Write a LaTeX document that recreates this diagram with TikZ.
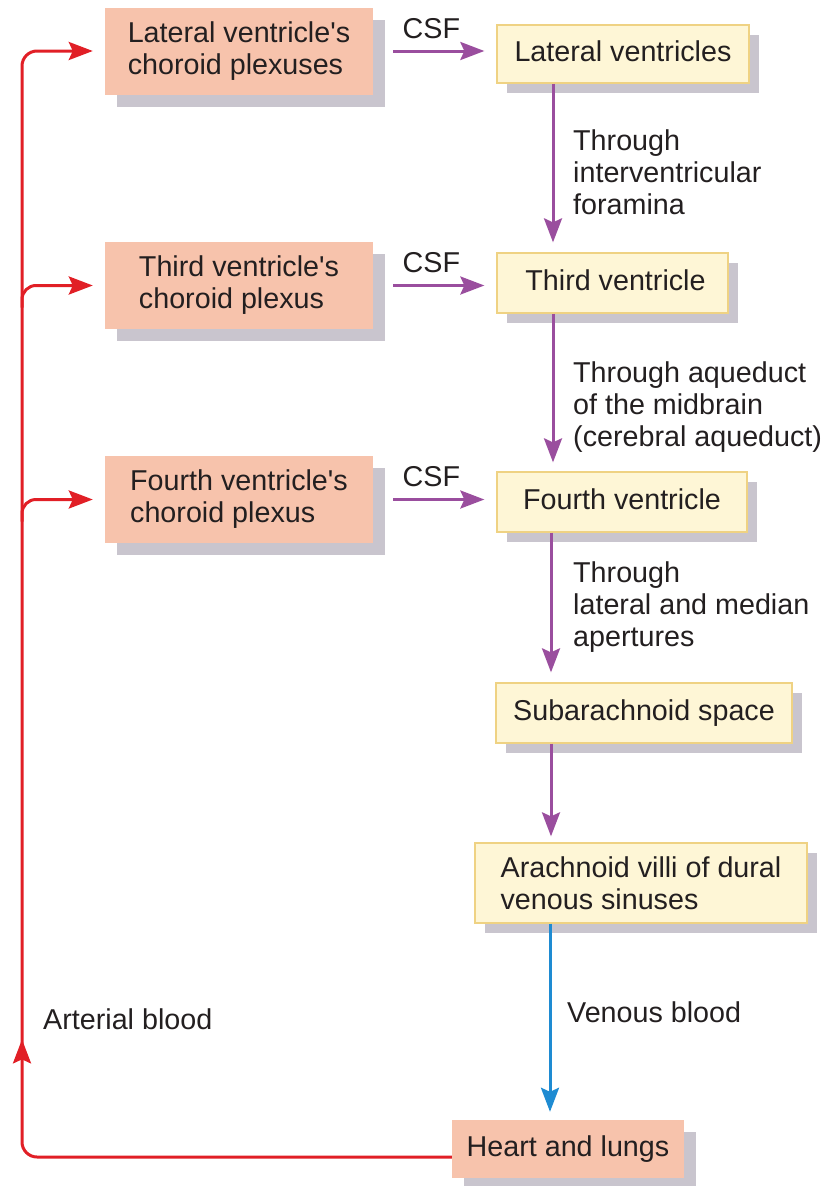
\documentclass[tikz,border=0pt]{standalone}
\usepackage{fontspec}
\setmainfont{Liberation Sans}[Ligatures=TeXOff]
\usetikzlibrary{arrows.meta,shadows,calc,decorations.markings}
\definecolor{salmon}{HTML}{F7C3AC}
\definecolor{shd}{HTML}{C9C5CE}
\definecolor{ylw}{HTML}{FEF6D6}
\definecolor{ylwline}{HTML}{EFD283}
\definecolor{ink}{HTML}{231F20}
\definecolor{csfpurple}{HTML}{9A4E9E}
\definecolor{bloodred}{HTML}{E11F26}
\definecolor{venblue}{HTML}{1E8BD2}
\begin{document}
\begin{tikzpicture}[x=1pt,y=-1pt,
  every node/.style={font=\fontsize{28.7}{32}\selectfont, text=ink},
  tip/.style={-{Stealth[length=24pt,width=18pt,inset=4pt]}},
  pbox/.style={fill=salmon, draw=none, inner sep=0pt, align=left,
    minimum width=268pt, minimum height=87pt,
    drop shadow={shadow xshift=12pt, shadow yshift=-12pt, fill=shd, opacity=1}},
  ybox/.style={fill=ylw, draw=ylwline, line width=1.3pt, inner sep=0pt,
    drop shadow={shadow xshift=10pt, shadow yshift=-10pt, fill=shd, opacity=1}},
  oneline/.style={text height=21pt, text depth=6pt},
  lbl/.style={anchor=north west, align=left, inner sep=0pt},
  csfarrow/.style={tip, draw=csfpurple, line width=3pt},
  bloodarrow/.style={tip, draw=bloodred, line width=3pt},
  venarrow/.style={tip, draw=venblue, line width=3pt},
]
\useasboundingbox (0,0) rectangle (827,1186);

% choroid plexus boxes
\node[pbox] (lcp) at (239,51) {Lateral ventricle's\\choroid plexuses};
\node[pbox] (tcp) at (239,285.5) {Third ventricle's\\choroid plexus};
\node[pbox] (fcp) at (239,499.5) {Fourth ventricle's\\choroid plexus};

% CSF pathway boxes
\node[ybox, oneline, minimum width=252pt, minimum height=58pt] (lv) at (623,54) {Lateral ventricles};
\node[ybox, oneline, minimum width=231pt, minimum height=60pt] (tv) at (612.5,283) {\hspace*{6pt}Third ventricle};
\node[ybox, oneline, minimum width=250pt, minimum height=60pt] (fv) at (622,502) {Fourth ventricle};
\node[ybox, oneline, minimum width=296pt, minimum height=60pt] (sas) at (644,713) {Subarachnoid space};
\node[ybox, align=left, minimum width=332pt, minimum height=80pt] (av) at (641,883) {Arachnoid villi of dural\\venous sinuses};
\node[pbox, oneline, align=center, minimum width=232pt, minimum height=58pt] (heart) at (568,1149) {Heart and lungs};

% labels
\node[lbl] (l1) at (573,129) {Through\\interventricular\\foramina};
\node[lbl] (l2) at (573,361) {Through aqueduct\\of the midbrain\\(cerebral aqueduct)};
\node[lbl] (l3) at (573,561) {Through\\lateral and median\\apertures};
\node[lbl] (l4) at (567,1001) {Venous blood};
\node[lbl] (l5) at (43,1008) {Arterial blood};

% helper coordinates
\coordinate (ax1) at (553,0);
\coordinate (ax2) at (551,0);
\coordinate (ax3) at (550,0);
\coordinate (trunk) at (22,0);

% CSF arrows
\draw[csfarrow] ([xshift=20pt]lcp.east) -- node[pos=0, anchor=south west, inner sep=0pt, xshift=8pt, yshift=11pt] (c1) {CSF} ($(lcp.east -| lv.west)+(-12,0)$);
\draw[csfarrow] ([xshift=20pt]tcp.east) -- node[pos=0, anchor=south west, inner sep=0pt, xshift=8pt, yshift=11pt] (c2) {CSF} ($(tcp.east -| tv.west)+(-12,0)$);
\draw[csfarrow] ([xshift=20pt]fcp.east) -- node[pos=0, anchor=south west, inner sep=0pt, xshift=8pt, yshift=11pt] (c3) {CSF} ($(fcp.east -| fv.west)+(-12,0)$);

% downward CSF flow
\draw[csfarrow] (lv.south -| ax1) -- ($(tv.north -| ax1)+(0,-10)$);
\draw[csfarrow] (tv.south -| ax1) -- ($(fv.north -| ax1)+(0,-9)$);
\draw[csfarrow] (fv.south -| ax2) -- ($(sas.north -| ax2)+(0,-10)$);
\draw[csfarrow] (sas.south -| ax2) -- ($(av.north -| ax2)+(0,-6)$);

% venous blood
\draw[venarrow] (av.south -| ax3) -- ($(heart.north -| ax3)+(0,-8)$);

% arterial blood
\draw[bloodarrow, rounded corners=15pt, postaction={decorate},
  decoration={markings, mark=at position 541pt with {\arrow[bloodred]{Stealth[length=24pt,width=18pt,inset=4pt]}}}]
  ([yshift=-8pt]heart.west) -| (trunk |- lcp.west) -- ([xshift=-12pt]lcp.west);
\draw[bloodarrow, rounded corners=14pt] ($(tcp.west -| trunk)+(0,22)$) |- ([xshift=-12pt]tcp.west);
\draw[bloodarrow, rounded corners=14pt] ($(fcp.west -| trunk)+(0,22)$) |- ([xshift=-12pt]fcp.west);
\end{tikzpicture}
\end{document}
